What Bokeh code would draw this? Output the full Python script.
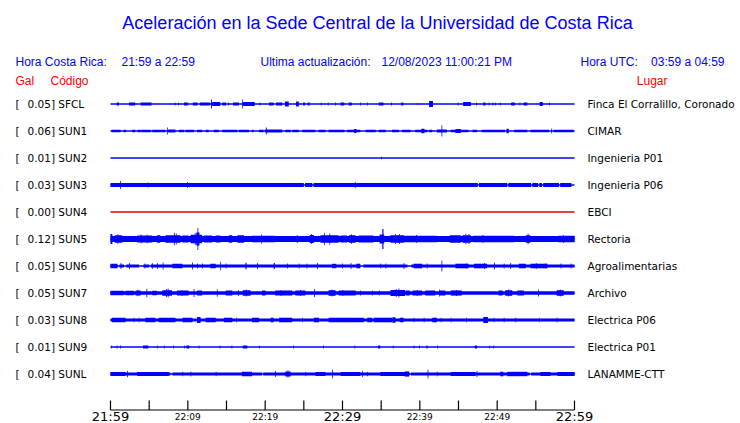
from bokeh.plotting import figure
from bokeh.models import Range1d, ColumnDataSource
from bokeh.embed import file_html
from bokeh.resources import INLINE
from bokeh.core.properties import value

# ---------------- data ----------------
TITLE = "Aceleración en la Sede Central de la Universidad de Costa Rica"
HORA_CR = "21:59 a 22:59"
UPDATED = "12/08/2023 11:00:21 PM"
HORA_UTC = "03:59 a 04:59"

STATIONS = ["SFCL", "SUN1", "SUN2", "SUN3", "SUN4", "SUN5", "SUN6", "SUN7", "SUN8", "SUN9", "SUNL"]
PEAK_GAL = ["0.05", "0.06", "0.01", "0.03", "0.00", "0.12", "0.05", "0.05", "0.03", "0.01", "0.04"]
PLACES = ["Finca El Corralillo, Coronado", "CIMAR", "Ingenieria P01", "Ingenieria P06", "EBCI",
          "Rectoria", "Agroalimentarias", "Archivo", "Electrica P06", "Electrica P01", "LANAMME-CTT"]

WINDOW_MIN = 60
TICK_MIN = list(range(0, 61, 5))
LABEL_MIN = [0, 10, 20, 30, 40, 50, 60]
LABEL_TEXT = ["21:59", "22:09", "22:19", "22:29", "22:39", "22:49", "22:59"]
LABEL_MAJOR = [True, False, False, True, False, False, True]

# envelope of each trace: steady noise level (half-amplitude, trace units)
BASE_AMP = [0.5, 0.5, 0.5, 1.9, 0.5, 3.0, 1.5, 1.7, 1.5, 0.5, 1.5]

# quiet gaps (minutes) in the steady noise band
SUN3_GAPS = [(25.0, 25.15), (26.1, 26.25), (47.5, 47.65), (51.3, 51.45), (54.4, 54.55),
             (55.3, 55.45), (55.8, 55.95), (58.0, 58.15), (59.6, 60.0)]
SUN6_GAPS = [(0.9, 1.15), (1.75, 2.05), (3.7, 4.25), (5.0, 5.2), (32.3, 32.7), (38.4, 38.9)]
SUNL_GAPS = [(7.75, 8.0), (19.6, 19.75), (38.7, 38.85), (54.2, 54.4)]

# bursts: (start minute, end minute, half-amplitude)
SFCL_EV = [(0.8, 1.1, 1.5), (2.4, 3.2, 1.5), (3.9, 5.3, 1.5), (8.3, 8.4, 1.5), (8.75, 8.85, 1.5),
           (9.5, 10.0, 1.5), (10.65, 11.25, 1.5), (11.55, 12.9, 1.5), (13.0, 13.12, 4.5),
           (13.15, 14.2, 2.0), (14.45, 14.95, 1.5), (15.2, 15.3, 1.5), (15.85, 16.6, 1.5),
           (17.0, 17.1, 4.5), (17.1, 18.65, 2.0), (19.3, 19.4, 1.5), (20.5, 21.1, 1.5),
           (21.4, 22.2, 1.5), (22.55, 23.05, 2.5), (24.0, 24.35, 2.5), (24.9, 25.15, 1.5),
           (25.5, 25.75, 1.5), (27.2, 27.3, 1.5), (28.1, 28.2, 1.5), (29.05, 29.15, 1.5),
           (29.75, 30.25, 1.5), (30.8, 31.2, 1.5), (32.3, 32.4, 1.5), (33.2, 33.3, 1.5),
           (34.7, 35.3, 1.5), (36.3, 36.4, 1.5), (37.6, 37.85, 1.5), (39.7, 39.8, 1.0),
           (41.2, 41.7, 3.0), (44.9, 45.0, 1.5), (45.6, 46.6, 2.0), (47.3, 47.4, 1.5),
           (48.2, 48.5, 1.5), (48.9, 49.0, 1.5), (49.4, 49.5, 1.5), (49.7, 49.8, 1.5),
           (50.35, 50.45, 1.5), (51.8, 52.3, 1.5), (52.9, 53.0, 1.5), (53.4, 53.9, 1.5),
           (55.5, 55.9, 2.0), (56.7, 56.8, 1.5)]
SUN1_EV = [(0.13, 1.3, 1.3), (1.7, 2.0, 1.3), (2.8, 3.2, 1.3), (3.5, 3.9, 1.3), (4.0, 5.2, 1.3),
           (5.4, 7.1, 1.3), (7.3, 7.4, 3.5), (7.45, 8.4, 1.5), (8.85, 9.5, 1.3), (9.7, 10.8, 1.3),
           (11.2, 11.85, 1.3), (12.3, 12.7, 1.3), (13.35, 14.0, 1.3), (14.45, 16.4, 1.3),
           (16.6, 17.9, 1.3), (18.3, 18.5, 1.3), (19.2, 19.8, 1.3), (19.95, 22.2, 1.5),
           (20.1, 20.2, 3.5), (22.6, 23.3, 1.3), (23.5, 24.35, 1.3), (24.8, 26.5, 1.3),
           (26.9, 27.8, 1.3), (28.2, 30.25, 1.3), (30.6, 32.3, 1.3), (31.5, 31.8, 2.0),
           (33.0, 34.3, 1.3), (34.7, 35.6, 1.3), (36.4, 37.3, 1.3), (37.7, 38.8, 1.3),
           (39.4, 41.0, 1.3), (40.2, 40.6, 2.2), (41.2, 41.6, 1.3), (42.2, 43.5, 1.5),
           (42.8, 42.9, 5.5), (44.0, 46.3, 1.3), (44.6, 45.3, 2.0), (46.8, 47.4, 1.3),
           (48.0, 51.0, 1.3), (51.2, 51.5, 2.3), (52.2, 53.9, 1.3), (54.3, 56.7, 1.3),
           (57.0, 57.1, 2.5), (57.3, 59.9, 1.3)]
SUN2_EV = [(35.0, 35.1, 1.2)]
SUN3_EV = [(1.25, 1.35, 4.0), (4.8, 4.9, 2.6), (9.9, 10.0, 2.9), (31.6, 31.7, 3.0)]
SUN4_EV = []
SUN5_EV = [(0.0, 0.25, 5.0), (0.55, 1.5, 3.8), (0.9, 1.0, 4.8), (3.45, 5.4, 3.5), (3.9, 4.0, 4.5),
           (4.7, 4.8, 4.2), (6.0, 6.45, 3.8), (7.1, 9.05, 3.8), (8.2, 8.3, 6.3), (8.45, 8.55, 5.5),
           (9.3, 10.1, 3.5), (10.35, 11.85, 4.2), (10.9, 11.0, 6.0), (11.1, 11.5, 6.5),
           (11.25, 11.35, 11.0), (12.1, 13.15, 3.5), (13.6, 14.2, 3.5), (15.3, 15.75, 3.8),
           (16.4, 17.25, 3.8), (18.3, 21.3, 3.3), (19.5, 19.6, 4.5), (24.1, 24.2, 4.0),
           (25.75, 26.3, 4.0), (25.95, 26.05, 5.0), (27.15, 29.5, 3.8), (27.6, 27.7, 6.3),
           (28.3, 28.4, 5.5), (29.75, 30.6, 3.5), (30.8, 31.7, 3.8), (31.1, 31.2, 4.8),
           (32.1, 34.0, 3.5), (34.8, 35.4, 4.5), (35.15, 35.3, 10.0), (36.2, 38.0, 3.8),
           (36.8, 36.9, 5.0), (37.3, 37.4, 5.0), (38.1, 42.2, 3.3), (39.5, 39.6, 4.0),
           (43.9, 45.3, 3.8), (45.5, 46.6, 3.8), (45.9, 46.0, 5.2), (46.3, 46.4, 5.0),
           (47.0, 52.2, 3.3), (48.1, 48.2, 4.0), (53.7, 54.3, 3.8), (53.95, 54.05, 5.2),
           (57.9, 60.0, 3.3), (58.5, 58.6, 4.0)]
SUN6_EV = [(0.0, 0.9, 2.2), (1.3, 1.4, 3.0), (2.4, 2.5, 3.0), (4.4, 4.5, 2.5), (5.35, 5.45, 3.0),
           (6.05, 6.15, 3.0), (6.75, 6.85, 3.4), (8.0, 9.3, 2.2), (10.55, 10.65, 3.4),
           (11.2, 11.3, 2.6), (11.85, 11.95, 2.6), (12.9, 13.6, 2.2), (14.2, 14.3, 4.3),
           (14.9, 15.0, 2.6), (17.45, 17.6, 3.3), (18.95, 19.05, 3.0), (21.1, 21.25, 3.0),
           (22.85, 22.95, 2.6), (24.35, 24.45, 2.6), (25.35, 25.45, 2.6), (26.7, 26.8, 3.0),
           (28.65, 29.2, 2.2), (29.95, 30.05, 2.6), (31.05, 31.15, 3.0), (31.8, 32.3, 2.3),
           (34.9, 35.0, 2.6), (35.55, 35.65, 2.6), (37.9, 38.0, 3.0), (39.2, 40.3, 2.3),
           (40.9, 41.0, 2.6), (42.8, 42.9, 5.5), (44.6, 46.3, 2.3), (46.0, 46.1, 2.6),
           (47.0, 48.7, 2.3), (48.3, 48.4, 3.0), (49.6, 49.7, 3.5), (50.85, 50.95, 2.6),
           (51.7, 51.8, 3.0), (52.8, 53.7, 2.3), (54.3, 56.5, 2.3), (55.0, 55.1, 3.0),
           (56.2, 56.3, 2.6), (58.2, 58.3, 2.6), (59.5, 59.6, 2.6)]
SUN7_EV = [(0.0, 1.7, 2.3), (1.95, 3.0, 2.3), (3.25, 3.9, 2.6), (3.5, 3.6, 3.3), (4.65, 4.75, 4.3),
           (5.4, 6.0, 2.3), (6.7, 7.95, 2.8), (7.2, 7.3, 4.0), (7.4, 7.5, 4.5), (8.6, 10.1, 2.5),
           (9.2, 9.3, 3.0), (10.75, 10.85, 4.0), (11.2, 11.85, 2.5), (13.75, 13.85, 3.7),
           (14.9, 15.75, 2.5), (16.5, 16.6, 3.0), (17.1, 18.1, 2.8), (17.5, 17.6, 3.5),
           (19.6, 20.05, 2.5), (21.3, 23.5, 2.5), (22.0, 22.1, 3.0), (23.9, 25.2, 2.5),
           (24.5, 24.6, 3.0), (26.35, 26.45, 4.0), (28.2, 29.1, 2.8), (28.6, 28.7, 3.5),
           (29.5, 31.7, 2.5), (30.0, 30.1, 3.0), (32.3, 32.4, 2.6), (33.8, 33.9, 2.6),
           (34.7, 34.8, 2.6), (36.2, 38.1, 3.0), (36.9, 37.0, 4.0), (37.25, 37.35, 4.5),
           (38.2, 38.7, 2.5), (39.05, 40.3, 2.5), (39.6, 39.7, 3.0), (40.7, 42.0, 2.5),
           (42.5, 42.6, 3.5), (42.6, 43.3, 2.5), (44.0, 45.4, 2.6), (44.7, 44.8, 3.0),
           (50.2, 50.7, 2.5), (51.05, 51.95, 2.8), (51.4, 51.5, 3.5), (52.6, 53.45, 2.5),
           (55.3, 55.4, 3.5), (57.7, 58.6, 2.8), (58.1, 58.2, 3.5)]
SUN8_EV = [(0.2, 1.95, 2.3), (3.0, 3.1, 2.3), (3.65, 3.75, 2.3), (4.5, 5.8, 2.3), (6.25, 8.4, 2.3),
           (9.3, 10.6, 2.3), (11.2, 11.65, 3.0), (12.3, 13.6, 2.3), (14.65, 15.75, 2.3),
           (16.25, 16.35, 2.3), (18.3, 19.2, 2.3), (20.7, 21.1, 2.3), (21.8, 23.5, 2.3),
           (24.8, 24.9, 2.3), (26.3, 26.95, 2.3), (28.2, 32.75, 2.3), (33.2, 33.85, 2.3),
           (34.05, 36.4, 2.3), (36.45, 36.85, 2.8), (37.4, 37.9, 2.3), (39.2, 39.3, 2.3),
           (40.5, 40.6, 2.3), (41.6, 42.2, 2.3), (42.7, 42.8, 2.3), (44.0, 44.1, 2.3),
           (46.0, 46.1, 2.3), (48.2, 48.8, 3.0), (49.55, 49.65, 2.3), (50.85, 50.95, 2.3),
           (52.35, 52.45, 2.3), (55.4, 55.5, 2.3), (57.7, 57.8, 2.3)]
SUN9_EV = [(0.1, 0.2, 1.5), (0.8, 0.9, 1.5), (1.25, 1.35, 1.5), (4.2, 4.9, 1.5), (6.0, 6.1, 1.5),
           (6.9, 7.0, 1.5), (8.1, 8.2, 1.5), (9.5, 9.6, 1.5), (9.8, 10.2, 1.5), (11.4, 11.5, 1.5),
           (14.1, 14.2, 1.5), (15.65, 15.75, 1.5), (17.1, 17.7, 1.5), (19.2, 19.3, 1.5),
           (23.6, 23.7, 1.5), (27.5, 27.6, 1.5), (31.55, 31.65, 1.5), (34.6, 34.9, 1.5),
           (36.5, 36.6, 1.5), (39.2, 39.3, 1.5), (39.9, 40.0, 1.5), (40.85, 41.0, 1.5),
           (42.25, 42.35, 1.5), (47.1, 47.4, 1.5), (49.0, 49.1, 1.5), (49.5, 49.6, 1.5)]
SUNL_EV = [(0.0, 1.95, 2.0), (2.15, 2.25, 3.3), (3.45, 7.55, 2.0), (9.3, 9.4, 2.3), (10.35, 10.45, 2.6),
           (13.6, 13.7, 2.3), (17.0, 18.3, 2.3), (21.3, 21.4, 3.0), (22.6, 23.3, 2.5),
           (22.9, 23.0, 3.7), (25.2, 25.3, 2.3), (26.5, 27.8, 2.0), (28.65, 28.75, 4.3),
           (29.75, 32.3, 2.0), (32.55, 32.65, 3.0), (33.2, 33.3, 2.3), (34.9, 38.5, 2.0),
           (38.05, 38.6, 2.6), (41.0, 41.1, 4.3), (42.2, 42.3, 2.3), (44.0, 47.2, 2.0),
           (47.35, 47.45, 3.0), (50.4, 50.8, 2.3), (51.3, 53.9, 2.2), (55.6, 56.9, 2.0),
           (57.8, 60.0, 2.0)]

EVENTS = [SFCL_EV, SUN1_EV, SUN2_EV, SUN3_EV, SUN4_EV, SUN5_EV, SUN6_EV, SUN7_EV, SUN8_EV, SUN9_EV, SUNL_EV]
GAPS = [[], [], [], SUN3_GAPS, [], [], SUN6_GAPS, [], [], [], SUNL_GAPS]

# ---------------- layout helpers (reference pixel geometry) ----------------
W, H = 740, 423
X_LEFT_PX, X_RIGHT_PX = 110.0, 574.0     # trace start / end on page
ROW0_PX, ROW_PX = 103.5, 27.0            # first row centre, row spacing
PX_PER_MIN = (X_RIGHT_PX - X_LEFT_PX) / WINDOW_MIN
AMP_SCALE = 1.0 / ROW_PX                 # trace units -> row units


def dx(px):
    return (px - X_LEFT_PX) / PX_PER_MIN


def dy(py):
    return (py - ROW0_PX) / ROW_PX


BLUE = "#0000ff"
RED = "#ff0000"
TRACE_COLORS = [BLUE, BLUE, BLUE, BLUE, "#e00000", BLUE, BLUE, BLUE, BLUE, BLUE, BLUE]

p = figure(width=W, height=H, output_backend="svg", toolbar_location=None, title=None,
           x_range=Range1d(dx(0), dx(W)),
           y_range=Range1d(dy(H), dy(0)),
           x_axis_location=None, y_axis_location=None, min_border=0)
p.grid.visible = False
p.outline_line_color = None
p.background_fill_color = "white"
p.border_fill_color = "white"

# ---------------- traces ----------------
L, R, T, B, C = [], [], [], [], []


def add(row, t0, t1, amp, color):
    L.append(t0)
    R.append(t1)
    T.append(row - amp * AMP_SCALE)
    B.append(row + amp * AMP_SCALE)
    C.append(color)


rows = list(range(len(STATIONS)))
for i, name in enumerate(STATIONS):
    col = TRACE_COLORS[i]
    if BASE_AMP[i] > 0.5:
        start = 0.0
        for g0, g1 in GAPS[i]:
            if g0 > start:
                add(i, start, g0, BASE_AMP[i], col)
            start = g1
        if start < WINDOW_MIN:
            add(i, start, WINDOW_MIN, BASE_AMP[i], col)
    for t0, t1, a in EVENTS[i]:
        add(i, t0, t1, a, col)

# thin centre line of every trace
p.segment(x0=[0] * len(rows), x1=[WINDOW_MIN] * len(rows), y0=rows, y1=rows,
          line_color=TRACE_COLORS, line_width=1.4)

src = ColumnDataSource(dict(left=L, right=R, top=T, bottom=B, color=C))
p.quad(left="left", right="right", top="top", bottom="bottom", fill_color="color",
       line_color=None, source=src)

# ---------------- time axis ----------------
axis_y = dy(409.5)
tick_top = dy(400)
p.segment(x0=[0], x1=[WINDOW_MIN], y0=[axis_y], y1=[axis_y], line_color="black", line_width=1.2)
p.segment(x0=TICK_MIN, x1=TICK_MIN, y0=[tick_top] * len(TICK_MIN), y1=[axis_y] * len(TICK_MIN),
          line_color="black", line_width=1.2)

big = [k for k, m in enumerate(LABEL_MAJOR) if m]
small = [k for k, m in enumerate(LABEL_MAJOR) if not m]
p.text(x=[LABEL_MIN[k] for k in big], y=[dy(416)] * len(big), text=[LABEL_TEXT[k] for k in big],
       text_font=value("DejaVu Sans"), text_font_size="13px", text_align="center",
       text_baseline="middle", text_color="black")
p.text(x=[LABEL_MIN[k] for k in small], y=[dy(416)] * len(small), text=[LABEL_TEXT[k] for k in small],
       text_font=value("DejaVu Sans"), text_font_size="9px", text_align="center",
       text_baseline="middle", text_color="black")

# ---------------- station labels ----------------
p.text(x=[dx(15)] * len(rows), y=rows, text=["["] * len(rows),
       text_font=value("DejaVu Sans"), text_font_size="10.5px", text_baseline="middle",
       text_color="black")
p.text(x=[dx(27)] * len(rows), y=rows, text=[f"{g}] {s}" for g, s in zip(PEAK_GAL, STATIONS)],
       text_font=value("DejaVu Sans"), text_font_size="10.5px", text_baseline="middle",
       text_color="black")
p.text(x=[dx(587)] * len(rows), y=rows, text=PLACES,
       text_font=value("DejaVu Sans"), text_font_size="10.5px", text_baseline="middle",
       text_color="black")

# ---------------- header ----------------
HF = value("Liberation Sans")
p.text(x=[dx(377)], y=[dy(22)], text=[TITLE], text_font=HF, text_font_size="18px",
       text_align="center", text_baseline="middle", text_color=BLUE)
p.text(x=[dx(15), dx(121), dx(260), dx(381), dx(580)],
       y=[dy(61)] * 5,
       text=["Hora Costa Rica:", HORA_CR, "Ultima actualización:", UPDATED, "Hora UTC:"],
       text_font=HF, text_font_size="12px", text_baseline="middle", text_color=BLUE)
p.text(x=[dx(724)], y=[dy(61)], text=[HORA_UTC], text_font=HF, text_font_size="12px",
       text_align="right", text_baseline="middle", text_color=BLUE)
p.text(x=[dx(15), dx(50)], y=[dy(80)] * 2, text=["Gal", "Código"], text_font=HF,
       text_font_size="12px", text_baseline="middle", text_color=RED)
p.text(x=[dx(667)], y=[dy(80)], text=["Lugar"], text_font=HF,
       text_font_size="12px", text_align="right", text_baseline="middle", text_color=RED)

open("out.html", "w").write(file_html(p, INLINE))
